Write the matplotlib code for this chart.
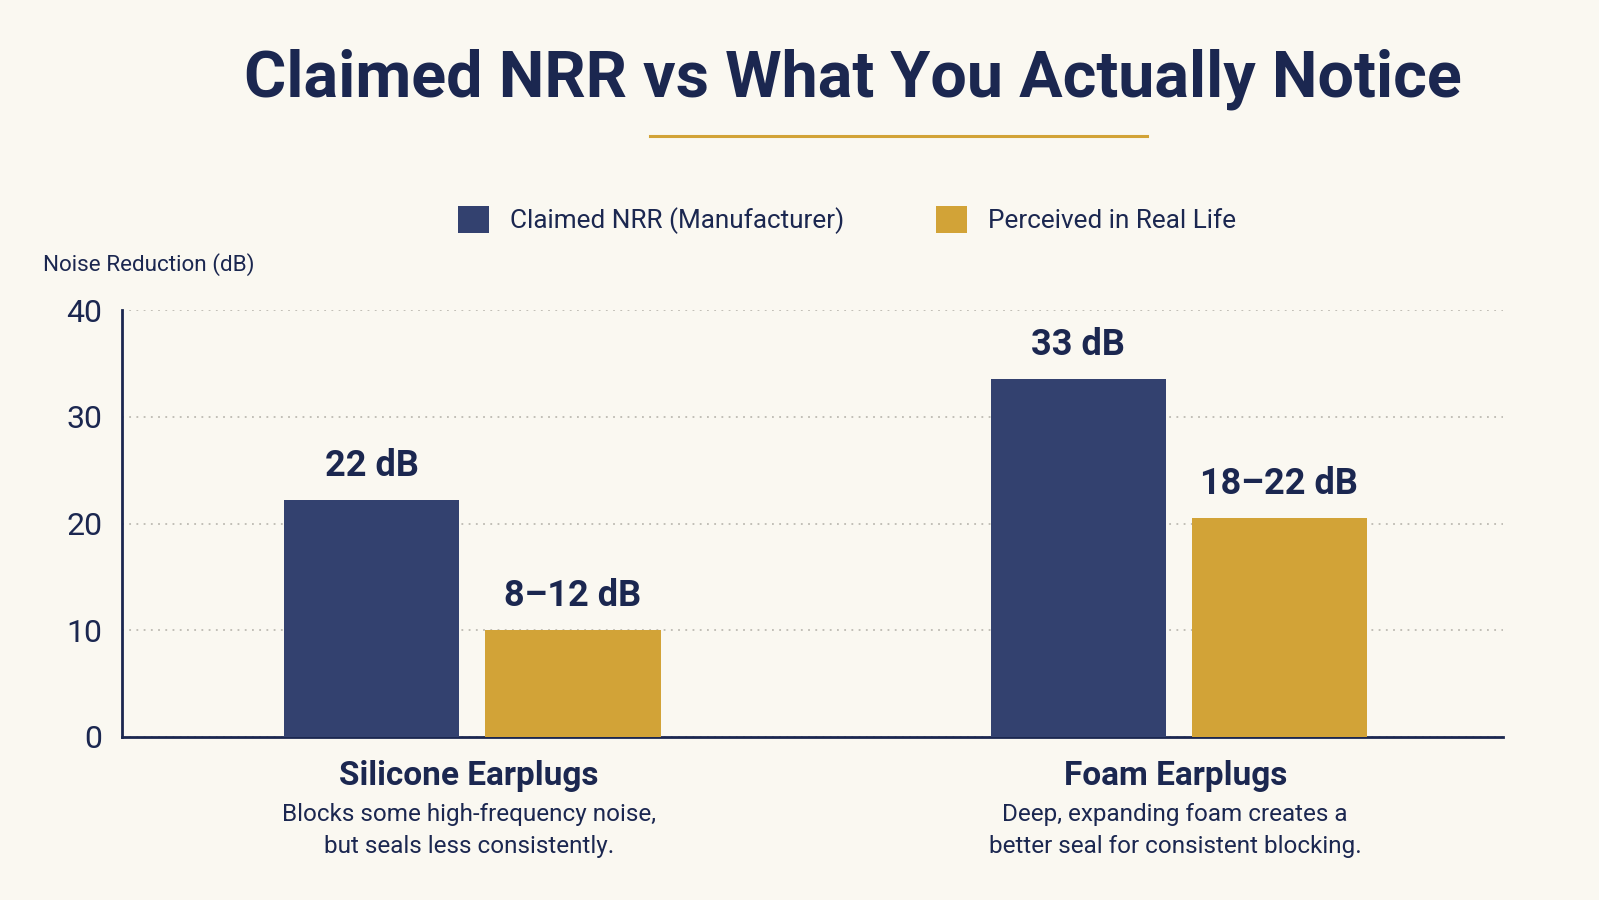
import matplotlib
matplotlib.use("Agg")
import matplotlib.pyplot as plt
import numpy as np

# ---- data ----
categories = ["Silicone Earplugs", "Foam Earplugs"]
descriptions = [
    ["Blocks some high-frequency noise,", "but seals less consistently."],
    ["Deep, expanding foam creates a", "better seal for consistent blocking."],
]
series_names = ["Claimed NRR (Manufacturer)", "Perceived in Real Life"]
claimed = [22.2, 33.5]
perceived = [10.0, 20.5]
claimed_labels = ["22 dB", "33 dB"]
perceived_labels = ["8\u201312 dB", "18\u201322 dB"]
yticks = [0, 10, 20, 30, 40]
title = "Claimed NRR vs What You Actually Notice"
ylabel = "Noise Reduction (dB)"

# ---- style ----
W, H = 1599, 900
BG = "#FAF8F1"
NAVY = "#33416F"
GOLD = "#D2A337"
TEXT = "#1B2750"
GRID = "#BDBAB2"
FONT = "Roboto"
plt.rcParams["font.family"] = [FONT, "DejaVu Sans"]

fig = plt.figure(figsize=(W / 100, H / 100), dpi=100, facecolor=BG)

def px(x, y):
    return x / W, 1 - y / H

ax_l, ax_r, ax_t, ax_b = 122, 1503, 310, 737
ax = fig.add_axes([ax_l / W, 1 - ax_b / H, (ax_r - ax_l) / W, (ax_b - ax_t) / H])
ax.set_facecolor(BG)

x = np.arange(len(categories))
bw = 0.248
off = 0.1425
b1 = ax.bar(x - off, claimed, bw, color=NAVY, zorder=3)
b2 = ax.bar(x + off, perceived, bw, color=GOLD, zorder=3)
ax.set_xlim(-0.496, 1 + 0.459)
ax.set_ylim(0, 40)
ax.set_yticks(yticks)
ax.set_yticklabels([str(t) for t in yticks], fontsize=23, color=TEXT)
ax.set_xticks([])
ax.tick_params(axis="y", length=0, pad=14)
for s in ["top", "right"]:
    ax.spines[s].set_visible(False)
for s in ["left", "bottom"]:
    ax.spines[s].set_color(TEXT)
    ax.spines[s].set_linewidth(2)
ax.yaxis.grid(True, linestyle=(0, (1, 3)), color=GRID, linewidth=1.3, zorder=0)
ax.set_axisbelow(True)

for rect, lab in zip(b1, claimed_labels):
    ax.annotate(lab, (rect.get_x() + rect.get_width() / 2, rect.get_height()),
                xytext=(0, 16), textcoords="offset pixels", ha="center", va="bottom",
                fontsize=26, fontweight="bold", color=TEXT)
for rect, lab in zip(b2, perceived_labels):
    ax.annotate(lab, (rect.get_x() + rect.get_width() / 2, rect.get_height()),
                xytext=(0, 16), textcoords="offset pixels", ha="center", va="bottom",
                fontsize=26, fontweight="bold", color=TEXT)

# category labels + descriptions (x from axis data coords)
trans = ax.get_xaxis_transform()
dx = -0.005
for i, (cat, desc) in enumerate(zip(categories, descriptions)):
    ax.text(i + dx, 1 - (776 - ax_t) / (ax_b - ax_t), cat, transform=trans, ha="center", va="center",
            fontsize=24, fontweight="bold", color=TEXT, clip_on=False)
    for j, line in enumerate(desc):
        yy = [814, 846][j]
        ax.text(i + dx, 1 - (yy - ax_t) / (ax_b - ax_t), line, transform=trans, ha="center", va="center",
                fontsize=17.5, color=TEXT, clip_on=False)

# title & underline
fig.text(*px(853, 79), title, ha="center", va="center", fontsize=46.5, fontweight="bold", color=TEXT)
fig.add_artist(plt.Line2D([650 / W, 1147 / W], [1 - 136 / H] * 2, color=GOLD, linewidth=2.2))

# y label
fig.text(*px(43, 265), ylabel, ha="left", va="center", fontsize=16.2, color=TEXT)

# legend
leg = fig.legend([b1, b2], series_names, loc="center", bbox_to_anchor=px(847, 220), ncol=2,
                 frameon=False, fontsize=18.8, labelcolor=TEXT, handlelength=1.2, handleheight=1.2,
                 handletextpad=0.8, columnspacing=3.5)

fig.savefig("out.png", dpi=100, facecolor=BG)
